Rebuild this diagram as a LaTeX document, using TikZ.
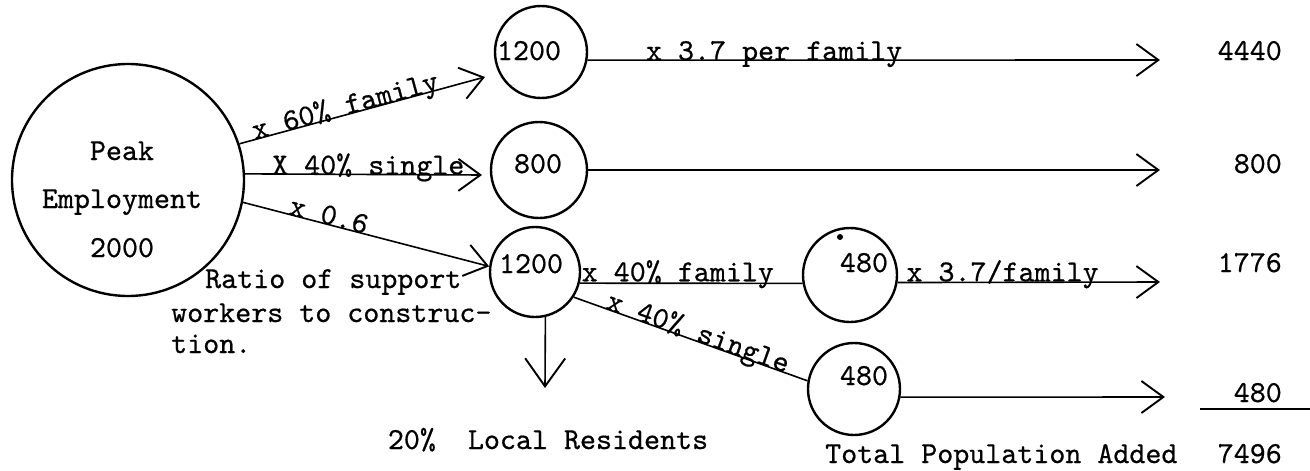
\documentclass[tikz,border=0pt]{standalone}
\usepackage{fontspec}
\newfontfamily\tw[Extension=.otf,FakeBold=0.6]{lmmono10-regular}
\usetikzlibrary{arrows.meta}
\begin{document}
\begin{tikzpicture}[x=1pt,y=-1pt,
  every node/.style={font=\tw\fontsize{30.5}{36}\selectfont, inner sep=0pt},
  circ/.style={circle, draw, line width=2.4pt, minimum size=#1, inner sep=0pt},
  conn/.style={line width=1.6pt},
  arr/.style={conn, -{Straight Barb[length=22pt,width=32pt,line width=1.9pt]}},
  downarr/.style={conn, -{Straight Barb[length=28pt,width=40pt,line width=1.9pt]}},
  lbl/.style={anchor=base, sloped},
  hl/.style={anchor=base}
]
\useasboundingbox (0,0) rectangle (1310,471);

% circles
\node[circ=232pt] (big) at (128,180) {};
\node[circ=92pt] (c1) at (541,52) {};
\node[circ=96pt] (c2) at (539,170) {};
\node[circ=90pt] (c3) at (535,272) {};
\node[circ=94pt] (c4) at (850,275) {};
\node[circ=92pt] (c5) at (854,389) {};
\fill (840,237) circle (3pt);

% texts in circles
\node[hl] (pk) at (122,160) {Peak};
\node[hl] (em) at (122,208) {Employment};
\node[hl] (tw) at (122,257) {2000};
\node[hl] (n1) at (529,60) {1200};
\node[hl] (n2) at (538,173) {800};
\node[hl] (n3) at (531,273) {1200};
\node[hl] (n4) at (864,272) {480};
\node[hl] (n5) at (864,385) {480};

% arrow tips
\coordinate (ta) at (485,77);
\coordinate (tb) at (482,175);
\coordinate (td) at (545,388);
\coordinate (tg) at (1160,60);
\coordinate (th) at (1160,170);
\coordinate (ti) at (1160,282);
\coordinate (tj) at (1165,397);

% connectors
\draw[arr] (big.18) -- node[lbl,pos=0.44] (la) {x 60\% family} (ta);
\draw[arr] (big.3) -- node[hl,pos=0.52] (lb) {X 40\% single} (tb);
\draw[arr] (big.-11) -- node[lbl,pos=0.34] (lc) {x 0.6} (c3.173);
\draw[conn] (c3.-14) -- node[hl,pos=0.44,yshift=2pt] (ld) {x 40\% family} (c4.190);
\draw[conn] (c3.-33) -- node[lbl,pos=0.52] (le) {x 40\% single} (c5.170);
\draw[downarr] (c3.-77) -- (td);
\draw[arr] (c1.-10) -- node[hl,pos=0.326] (lg) {x 3.7 per family} (tg);
\draw[arr] (c2.east) -- (th);
\draw[arr] (c4.-9) -- node[hl,pos=0.40,yshift=1pt] (li) {x 3.7/family} (ti);
\draw[arr] (c5.-10) -- (tj);

% side texts
\node[anchor=base west] (ra1) at (205,288) {Ratio of support};
\node[anchor=base west] (ra2) at (171,322) {workers to construc-};
\node[anchor=base west] (ra3) at (171,353) {tion.};
\node[hl] (loc) at (548,449) {20\%\ \ Local Residents};

% results
\node[anchor=base east] (r1) at (1282,60) {4440};
\node[anchor=base east] (r2) at (1282,173) {800};
\node[anchor=base east] (r3) at (1282,272) {1776};
\node[anchor=base east] (r4) at (1282,402) {480};
\coordinate (u1) at (1200,409);
\coordinate (u2) at (1310,409);
\draw[conn] (u1) -- (u2);
\node[anchor=base west] (tot) at (825,463) {Total Population Added};
\node[anchor=base east] (r5) at (1282,463) {7496};
\end{tikzpicture}
\end{document}
